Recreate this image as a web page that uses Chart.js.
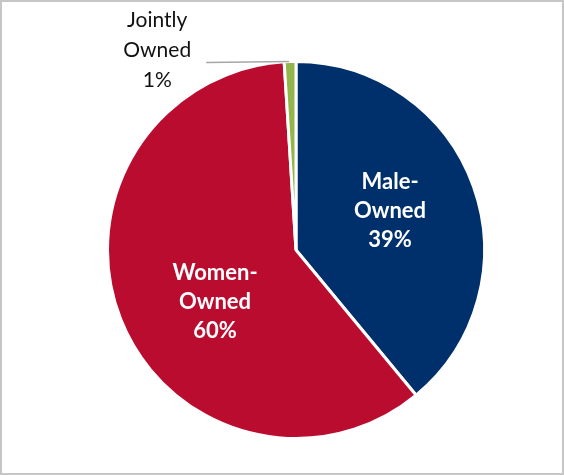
<!DOCTYPE html>
<html>
<head>
<meta charset="utf-8">
<script src="https://cdn.jsdelivr.net/npm/chart.js@4"></script>
<style>
  html, body { margin: 0; padding: 0; background: #fff; }
  #frame {
    width: 564px; height: 475px; box-sizing: border-box;
    border: 2px solid #c6c6c6; background: #fff;
  }
  #pieChart { display: block; }
</style>
</head>
<body>
<div id="frame"><canvas id="pieChart" width="560" height="471"></canvas></div>
<script>
const categories = ['Male-Owned', 'Women-Owned', 'Jointly Owned'];
const shares = [39, 60, 1];
const sliceColors = ['#00306B', '#BA0C2F', '#94B44C'];

// label lines per slice, and where they sit (fraction of radius, angle nudge in degrees)
const labelLines = [['Male-', 'Owned'], ['Women-', 'Owned'], ['Jointly', 'Owned']];
const labelPlace = [
    { f: 0.54, nudge: -2.7, inside: true },
    { f: 0.51, nudge: -11, inside: true },
    { f: 1.29, nudge: -33, inside: false }
];

const sliceLabels = {
    id: 'sliceLabels',
    afterDatasetsDraw(chart) {
        const ctx = chart.ctx;
        const arcs = chart.getDatasetMeta(0).data;
        arcs.forEach((arc, i) => {
            const p = labelPlace[i];
            const mid = (arc.startAngle + arc.endAngle) / 2;
            const ang = mid + p.nudge * Math.PI / 180;
            const cx = arc.x + Math.cos(ang) * arc.outerRadius * p.f;
            const cy = arc.y + Math.sin(ang) * arc.outerRadius * p.f;
            const lines = labelLines[i].concat([shares[i] + '%']);
            let lineH = 29;
            ctx.save();
            ctx.textAlign = 'center';
            ctx.textBaseline = 'middle';
            if (p.inside) {
                ctx.fillStyle = '#ffffff';
                ctx.font = 'bold 22px Lato, "Open Sans", sans-serif';
            } else {
                lineH = 30;
                ctx.fillStyle = '#111111';
                ctx.font = '21px Lato, "Open Sans", sans-serif';
                // leader line from label to the slice edge
                const ex = arc.x + Math.cos(mid) * arc.outerRadius;
                const ey = arc.y + Math.sin(mid) * arc.outerRadius;
                ctx.strokeStyle = '#a6a6a6';
                ctx.lineWidth = 1.5;
                ctx.beginPath();
                ctx.moveTo(cx + 49, ey + 1);
                ctx.lineTo(ex - 1, ey);
                ctx.stroke();
            }
            lines.forEach((t, k) => {
                ctx.fillText(t, cx, cy + (k - (lines.length - 1) / 2) * lineH);
            });
            ctx.restore();
        });
    }
};

const pieCtx = document.getElementById('pieChart').getContext('2d');
window.pieChart = new Chart(pieCtx, {
    type: 'pie',
    data: {
        labels: categories,
        datasets: [{
            data: shares,
            backgroundColor: sliceColors,
            borderColor: '#ffffff',
            borderWidth: 3
        }]
    },
    options: {
        responsive: false,
        animation: false,
        layout: { padding: { top: 58, bottom: 33, left: 104, right: 76 } },
        plugins: {
            legend: { display: false },
            tooltip: { enabled: false }
        }
    },
    plugins: [sliceLabels]
});
</script>
</body>
</html>
